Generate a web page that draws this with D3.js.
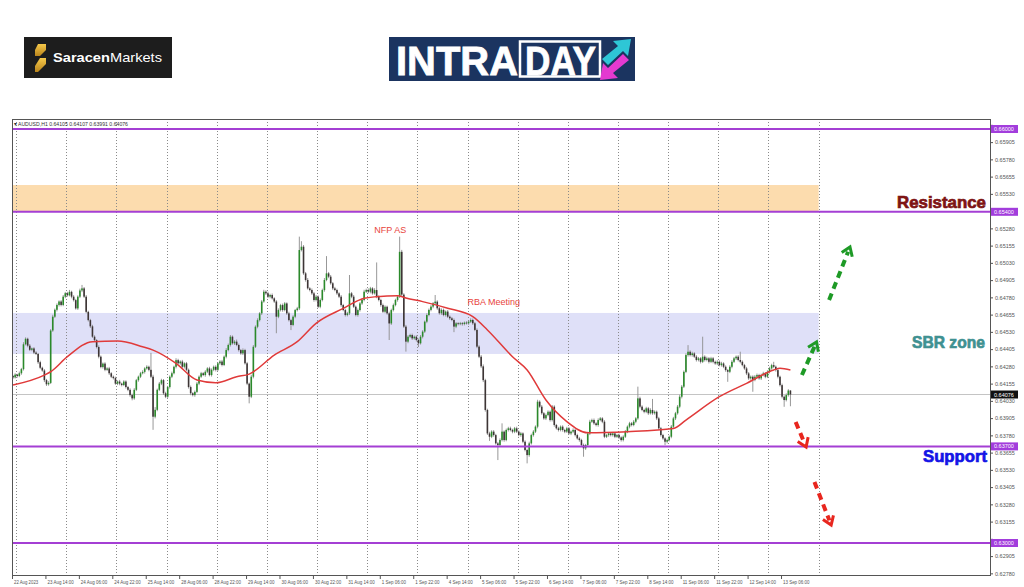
<!DOCTYPE html>
<html>
<head>
<meta charset="utf-8">
<script src="https://cdn.jsdelivr.net/npm/d3@7/dist/d3.min.js"></script>
<style>
  body { margin: 0; background: #fff; }
  svg { display: block; }
  text { font-family: "Liberation Sans", Arial, sans-serif; }
</style>
</head>
<body>
<script>
// AUDUSD H1, closes in points (1e-5). open of a bar = close of the bar before
var firstOpen = 64210;
var closes = [
  64200,64220,64210,64230,64260,64440,64480,64430,64400,64410,64380,64370,64310,64270,64250,64180,64150,64160,64540,64640,64690,64725,64750,64725,
  64785,64810,64795,64820,64785,64760,64700,64785,64830,64845,64785,64675,64615,64570,64495,64470,64420,64350,64275,64300,64255,64265,64230,64205,
  64195,64155,64170,64155,64145,64170,64130,64110,64072,64048,64110,64180,64205,64230,64240,64265,64277,64255,64205,63915,63965,64110,64155,64180,
  64085,64060,64130,64205,64230,64277,64325,64302,64315,64277,64302,64255,64130,64085,64072,64095,64155,64205,64230,64217,64241,64265,64217,64255,
  64277,64255,64302,64315,64290,64350,64398,64435,64495,64447,64459,64435,64398,64374,64398,64302,64155,64060,64205,64422,64567,64615,64664,64750,
  64821,64809,64785,64797,64773,64750,64640,64688,64724,64688,64736,64664,64615,64580,64640,64688,64700,65123,65147,64954,64906,64845,64833,64809,
  64761,64785,64712,64761,64833,64906,64954,64930,64882,64845,64833,64809,64785,64724,64688,64652,64664,64809,64785,64712,64652,64688,64736,64761,
  64821,64833,64821,64845,64809,64833,64785,64761,64724,64676,64712,64664,64591,64688,64724,64761,64785,65110,64800,64568,64459,64495,64507,64483,
  64495,64471,64447,64495,64532,64604,64652,64689,64713,64737,64749,64701,64665,64689,64652,64677,64640,64628,64616,64568,64592,64587,64592,64587,
  64597,64592,64604,64616,64592,64544,64423,64350,64280,64180,63964,63794,63770,63807,63782,63722,63710,63746,63807,63746,63819,63831,63819,63807,
  63831,63807,63782,63794,63734,63674,63637,63722,63782,63807,63843,64024,63988,63940,63903,63927,63951,63891,63988,63855,63831,63819,63843,63819,
  63807,63831,63794,63807,63819,63782,63758,63746,63710,63686,63710,63794,63879,63891,63867,63855,63891,63903,63879,63770,63782,63794,63782,63794,
  63770,63782,63765,63746,63770,63807,63843,63867,63855,63879,63903,64048,63988,63964,63951,63976,63940,63964,63940,63951,63903,63831,63782,63758,
  63734,63746,63770,63843,63903,63940,63988,64060,64133,64240,64362,64386,64362,64374,64350,64326,64338,64313,64350,64326,64338,64313,64338,64313,
  64301,64313,64289,64301,64277,64253,64241,64277,64313,64338,64350,64326,64313,64289,64265,64229,64193,64205,64181,64205,64217,64193,64217,64229,
  64205,64241,64265,64289,64277,64253,64205,64144,64060,64036,64072,64105,64076
];
// upper / lower shadows in points
var upWick = [
  8,10,6,12,9,15,10,8,12,6,9,10,7,11,8,10,9,12,10,14,9,11,8,10,
  12,9,10,14,8,11,9,10,13,25,10,12,8,9,11,10,7,12,9,8,10,9,11,8,
  9,10,8,12,7,10,9,8,11,10,12,9,8,10,12,9,11,8,123,14,20,9,12,10,
  8,11,9,10,12,8,14,10,9,12,8,10,9,11,8,10,12,9,10,8,11,9,12,10,
  9,11,8,10,12,9,14,10,12,9,11,15,10,8,12,9,10,8,14,12,10,13,9,11,
  14,10,12,9,11,8,10,12,9,11,10,8,12,9,10,8,11,97,40,12,10,14,9,11,
  10,12,9,11,10,14,125,10,12,9,11,10,8,12,9,10,11,133,10,12,9,11,10,12,
  14,10,12,11,9,13,200,10,9,11,10,8,12,10,11,9,10,110,14,10,12,11,9,10,
  9,10,11,12,10,8,12,10,11,9,48,10,9,11,10,8,12,9,10,11,9,8,10,9,
  8,10,9,12,10,9,11,10,12,14,10,9,12,10,11,9,10,12,60,9,10,11,12,9,
  10,12,9,11,8,10,9,12,10,11,9,14,10,12,9,11,10,9,12,10,8,11,9,10,
  9,11,10,8,12,9,10,11,9,10,8,12,14,10,11,9,12,10,9,11,8,10,9,11,
  10,9,11,8,10,12,9,11,10,12,9,85,12,10,9,11,10,12,80,10,9,11,10,9,
  8,10,9,12,11,10,12,14,12,10,12,48,10,12,9,11,10,9,145,10,12,9,11,10,
  9,11,10,12,9,10,8,11,12,10,9,11,60,10,9,11,10,9,10,12,11,9,10,12,
  10,11,12,10,24,9,10,8,11,10,12,10,2
];
var downWick = [
  10,8,12,9,11,10,8,12,9,10,11,8,12,10,9,14,12,10,8,10,9,12,11,10,
  9,11,10,8,12,10,9,11,10,12,9,11,10,12,9,11,10,12,9,11,10,8,12,10,
  10,9,11,12,10,8,11,10,12,14,10,9,11,10,8,12,9,11,10,95,12,10,9,11,
  12,10,9,11,10,8,12,9,11,10,12,9,11,14,10,12,9,11,10,8,12,10,9,11,
  10,12,9,11,10,8,12,9,11,10,12,9,11,10,12,9,11,48,10,12,9,11,10,12,
  9,11,10,12,9,10,120,11,10,12,9,11,10,37,9,11,10,12,10,11,12,9,10,11,
  12,10,9,11,10,12,9,11,10,12,9,11,10,12,9,11,10,12,11,9,10,12,11,10,
  10,9,11,12,10,9,11,10,12,9,11,10,120,11,10,9,12,10,12,10,72,11,10,12,
  10,11,27,9,12,10,11,9,10,12,9,11,10,12,9,11,10,12,9,40,11,10,9,12,
  10,9,11,10,12,9,11,10,12,14,12,11,30,10,12,9,109,11,10,12,9,11,10,12,
  11,10,9,12,11,10,60,12,9,11,10,12,9,11,10,12,9,11,10,12,9,11,10,12,
  11,10,9,12,11,10,9,12,10,61,11,10,12,9,11,10,12,9,11,10,9,12,10,11,
  10,9,12,11,10,9,11,12,10,9,11,10,12,9,11,10,12,9,11,10,12,9,11,10,
  25,12,10,11,9,12,10,11,12,10,9,11,10,12,9,11,10,12,9,11,10,12,9,11,
  10,12,9,11,10,12,73,10,11,9,12,10,11,9,10,12,11,10,85,9,11,10,12,9,
  11,10,12,9,10,11,12,10,12,49,10,11,85
];

// moving average (red), read at a few bars
var maBars = [0,15,18,26,38,50,62,67,78,88,97,107,113,125,136,145,158,168,174,184,188,196,208,220,227,239,246,255,265,275,294,316,322,338,351,364,367,372];
var maValues = [0.64145,0.64217,0.64241,0.64350,0.64459,0.64463,0.64422,0.64398,0.64302,0.64181,0.64161,0.64205,0.64224,0.64362,0.64459,0.64592,0.64700,0.64773,0.64785,0.64792,0.64775,0.64749,0.64701,0.64640,0.64544,0.64350,0.64254,0.64036,0.63880,0.63799,0.63807,0.63830,0.63891,0.64060,0.64157,0.64254,0.64266,0.64254];

// time axis: one label every 16 bars
var timeLabels = ["22 Aug 2023","23 Aug 14:00","24 Aug 06:00","24 Aug 22:00","25 Aug 14:00","28 Aug 06:00","28 Aug 22:00","29 Aug 14:00","30 Aug 06:00","30 Aug 22:00","31 Aug 14:00","1 Sep 06:00","1 Sep 22:00","4 Sep 14:00","5 Sep 06:00","5 Sep 22:00","6 Sep 14:00","7 Sep 06:00","7 Sep 22:00","8 Sep 14:00","11 Sep 06:00","11 Sep 22:00","12 Sep 14:00","13 Sep 06:00"];
var dayStarts = [2,26,50,74,98,122,146,170,194,218,242,266,290,314,338,362,386];

var yTicks = [0.66030,0.65905,0.65780,0.65655,0.65530,0.65405,0.65280,0.65155,0.65030,0.64905,0.64780,0.64655,0.64530,0.64405,0.64280,0.64155,0.64030,0.63905,0.63780,0.63655,0.63530,0.63405,0.63280,0.63155,0.63030,0.62905,0.62780];
var levels = [0.66000, 0.65400, 0.63700, 0.63000];
var lastPrice = 0.64076;
var resistanceZone = [0.65400, 0.65594];
var sbrZone = [0.64370, 0.64667];
var zoneEnd = 386;

// projection arrows: [bar, price] -> [bar, price]
var arrows = [
  {from: [378, 0.64217], to: [385, 0.64457], color: "#1e9a26"},
  {from: [391, 0.64761], to: [401, 0.65145], color: "#1e9a26"},
  {from: [375, 0.63877], to: [380, 0.63696], color: "#e8261e"},
  {from: [384, 0.63442], to: [392, 0.63130], color: "#e8261e"}
];

var W = 1024, H = 587;
var svg = d3.select("body").append("svg").attr("width", W).attr("height", H);

// ---- header logos ----
var logo = svg.append("g");
logo.append("rect").attr("x", 24).attr("y", 37).attr("width", 148).attr("height", 41).attr("fill", "#1d1d1d");
var gold = svg.append("defs").append("linearGradient").attr("id", "gold")
  .attr("x1", 0).attr("y1", 0).attr("x2", 0).attr("y2", 1);
gold.append("stop").attr("offset", 0).attr("stop-color", "#f6c94a");
gold.append("stop").attr("offset", 1).attr("stop-color", "#b9841c");
logo.append("path").attr("d", "M38,44 L46,44 L46,50 L40,56 L35,56 L35,50 Z").attr("fill", "url(#gold)");
logo.append("path").attr("d", "M40,58 L46,58 L46,64 L38,72 L35,72 L35,66 Z").attr("fill", "url(#gold)");
var st = logo.append("text").attr("x", 53).attr("y", 62).attr("font-family", "Open Sans, sans-serif")
  .attr("font-size", 13.5).attr("fill", "#fff").attr("textLength", 109).attr("lengthAdjust", "spacingAndGlyphs");
st.append("tspan").attr("font-weight", 700).text("Saracen");
st.append("tspan").attr("font-weight", 400).text("Markets");

var intra = svg.append("g");
intra.append("rect").attr("x", 389).attr("y", 37).attr("width", 246).attr("height", 44).attr("fill", "#1b3460");
intra.append("text").attr("x", 396).attr("y", 75).attr("font-family", "Roboto, sans-serif")
  .attr("font-weight", 700).attr("font-size", 40).attr("fill", "#fff")
  .attr("stroke", "#fff").attr("stroke-width", 0.8)
  .attr("textLength", 122).attr("lengthAdjust", "spacingAndGlyphs").text("INTRA");
intra.append("rect").attr("x", 520).attr("y", 41.5).attr("width", 80).attr("height", 35)
  .attr("fill", "none").attr("stroke", "#fff").attr("stroke-width", 2.5);
intra.append("text").attr("x", 525).attr("y", 75).attr("font-family", "Roboto, sans-serif")
  .attr("font-weight", 700).attr("font-size", 40).attr("fill", "#fff")
  .attr("stroke", "#fff").attr("stroke-width", 0.8)
  .attr("textLength", 71).attr("lengthAdjust", "spacingAndGlyphs").text("DAY");
intra.append("path").attr("d", "M602,59 L618,46 L613,41 L631,39 L628,56 L623,51 L608,65 Z").attr("fill", "#2ec6d6");
intra.append("path").attr("d", "M629,60 L613,73 L618,78 L600,80 L603,63 L608,68 L623,54 Z").attr("fill", "#e43ad0");

// ---- chart ----
var plot = {left: 12, right: 990, top: 119, bottom: 575};
var x = d3.scaleLinear().domain([0, 468]).range([plot.left, plot.right]);
var y = d3.scaleLinear().domain([0.627681, 0.660725]).range([plot.bottom, plot.top]);

var bars = closes.map(function (c, i) {
  var o = i === 0 ? firstOpen : closes[i - 1];
  return {
    i: i,
    open: o / 1e5,
    close: c / 1e5,
    high: (Math.max(o, c) + upWick[i]) / 1e5,
    low: (Math.min(o, c) - downWick[i]) / 1e5
  };
});

svg.append("clipPath").attr("id", "clip").append("rect")
  .attr("x", plot.left).attr("y", plot.top)
  .attr("width", plot.right - plot.left).attr("height", plot.bottom - plot.top);
var g = svg.append("g").attr("clip-path", "url(#clip)");

// zones
g.append("rect").attr("x", x(0)).attr("width", x(zoneEnd) - x(0))
  .attr("y", y(resistanceZone[1])).attr("height", y(resistanceZone[0]) - y(resistanceZone[1]))
  .attr("fill", "#fcdcae");
g.append("rect").attr("x", x(0)).attr("width", x(zoneEnd) - x(0))
  .attr("y", y(sbrZone[1])).attr("height", y(sbrZone[0]) - y(sbrZone[1]))
  .attr("fill", "#dfe0f8");

// day separators
g.selectAll("line.day").data(dayStarts).enter().append("line")
  .attr("class", "day")
  .attr("x1", function (d) { return Math.round(x(d)) + 0.5; })
  .attr("x2", function (d) { return Math.round(x(d)) + 0.5; })
  .attr("y1", plot.top).attr("y2", plot.bottom)
  .attr("stroke", "#8a8a8a").attr("stroke-width", 1).attr("stroke-dasharray", "1,2");

// bid line
g.append("line").attr("x1", plot.left).attr("x2", plot.right)
  .attr("y1", y(lastPrice)).attr("y2", y(lastPrice))
  .attr("stroke", "#c4c4c4").attr("stroke-width", 1);

// candles
var cg = g.append("g");
cg.selectAll("line.wick").data(bars).enter().append("line")
  .attr("class", "wick")
  .attr("x1", function (d) { return x(d.i + 0.5); })
  .attr("x2", function (d) { return x(d.i + 0.5); })
  .attr("y1", function (d) { return y(d.high); })
  .attr("y2", function (d) { return y(d.low); })
  .attr("stroke", "#8c8c8c").attr("stroke-width", 0.9);
cg.selectAll("rect.body").data(bars).enter().append("rect")
  .attr("class", "body")
  .attr("x", function (d) { return x(d.i + 0.5) - 0.8; })
  .attr("width", 1.6)
  .attr("y", function (d) { return y(Math.max(d.open, d.close)); })
  .attr("height", function (d) { return Math.max(0.8, Math.abs(y(d.open) - y(d.close))); })
  .attr("fill", function (d) { return d.close >= d.open ? "#2b8a2b" : "#3d3535"; });

// moving average
var ma = maBars.map(function (b, k) { return [b, maValues[k]]; });
g.append("path").datum(ma)
  .attr("fill", "none").attr("stroke", "#e03a3a").attr("stroke-width", 1.5)
  .attr("d", d3.line()
    .x(function (d) { return x(d[0] + 0.5); })
    .y(function (d) { return y(d[1]); })
    .curve(d3.curveMonotoneX));

// purple levels
g.selectAll("line.level").data(levels).enter().append("line")
  .attr("class", "level")
  .attr("x1", plot.left).attr("x2", plot.right)
  .attr("y1", function (d) { return y(d); }).attr("y2", function (d) { return y(d); })
  .attr("stroke", "#a43fd4").attr("stroke-width", 2);

// event notes
g.append("text").attr("x", x(181)).attr("y", y(0.65250)).attr("text-anchor", "middle")
  .attr("font-size", 9).attr("fill", "#e8443c").text("NFP AS");
g.append("text").attr("x", x(218)).attr("y", y(0.64725)).attr("text-anchor", "start")
  .attr("font-size", 9).attr("fill", "#e8443c").text("RBA Meeting");

// arrows
arrows.forEach(function (a) {
  var x1 = x(a.from[0]), y1 = y(a.from[1]), x2 = x(a.to[0]), y2 = y(a.to[1]);
  var ang = Math.atan2(y2 - y1, x2 - x1);
  var back = 5;
  g.append("line")
    .attr("x1", x1).attr("y1", y1)
    .attr("x2", x2 - back * Math.cos(ang)).attr("y2", y2 - back * Math.sin(ang))
    .attr("stroke", a.color).attr("stroke-width", 4).attr("stroke-dasharray", "7,5");
  var len = 10, spread = 0.6;
  var p1 = [x2 - len * Math.cos(ang - spread), y2 - len * Math.sin(ang - spread)];
  var p2 = [x2 - len * Math.cos(ang + spread), y2 - len * Math.sin(ang + spread)];
  g.append("path")
    .attr("d", "M" + p1 + "L" + x2 + "," + y2 + "L" + p2)
    .attr("fill", "none").attr("stroke", a.color).attr("stroke-width", 3)
    .attr("stroke-linejoin", "miter");
});

// frame
svg.append("rect").attr("x", plot.left + 0.5).attr("y", plot.top + 0.5)
  .attr("width", plot.right - plot.left).attr("height", plot.bottom - plot.top)
  .attr("fill", "none").attr("stroke", "#555").attr("stroke-width", 1);

// big zone labels
var big = svg.append("g").attr("font-family", "Roboto, sans-serif").attr("font-weight", 900)
  .attr("text-anchor", "end").attr("stroke-width", 0.7);
big.append("text").attr("x", 986).attr("y", y(0.65400) - 4).attr("font-size", 17)
  .attr("fill", "#7e1414").attr("stroke", "#7e1414")
  .attr("textLength", 89).attr("lengthAdjust", "spacingAndGlyphs").text("Resistance");
big.append("text").attr("x", 985).attr("y", y(0.64400) - 2).attr("font-size", 17)
  .attr("fill", "#3f9191").attr("stroke", "#3f9191")
  .attr("textLength", 73).attr("lengthAdjust", "spacingAndGlyphs").text("SBR zone");
big.append("text").attr("x", 987).attr("y", y(0.63700) + 16).attr("font-size", 17)
  .attr("fill", "#1414e6").attr("stroke", "#1414e6")
  .attr("textLength", 64).attr("lengthAdjust", "spacingAndGlyphs").text("Support");

// price axis, labels under the price tags are left out
var tagged = levels.concat([lastPrice]);
var shownTicks = yTicks.filter(function (v) {
  return tagged.every(function (t) { return Math.abs(y(v) - y(t)) > 6; });
});
var yAxis = d3.axisRight(y).tickValues(yTicks).tickSize(3).tickFormat(function (v) {
  return shownTicks.indexOf(v) >= 0 ? d3.format(".5f")(v) : "";
});
var ya = svg.append("g").attr("transform", "translate(" + plot.right + ",0)").call(yAxis);
ya.select(".domain").remove();
ya.selectAll("text").attr("font-size", 5.5).attr("fill", "#555").attr("x", 5);
ya.selectAll("line").attr("stroke", "#555");

function priceTag(v, bg) {
  var t = svg.append("g").attr("transform", "translate(" + (plot.right + 1) + "," + y(v) + ")");
  t.append("rect").attr("x", 0).attr("y", -4).attr("width", 27).attr("height", 8).attr("fill", bg);
  t.append("text").attr("x", 3).attr("y", 2).attr("font-size", 5.5).attr("fill", "#fff")
    .text(d3.format(".5f")(v));
}
levels.forEach(function (v) { priceTag(v, "#a23ddc"); });
priceTag(lastPrice, "#111");

// time axis
var tickBars = timeLabels.map(function (t, k) { return k * 16; });
var xa = svg.append("g").attr("transform", "translate(0," + plot.bottom + ")");
xa.selectAll("line").data(tickBars).enter().append("line")
  .attr("x1", function (d) { return x(d) + 0.5; }).attr("x2", function (d) { return x(d) + 0.5; })
  .attr("y1", 0).attr("y2", 4).attr("stroke", "#555");
xa.selectAll("text").data(tickBars).enter().append("text")
  .attr("x", function (d) { return x(d) + 2; }).attr("y", 9)
  .attr("font-size", 5).attr("fill", "#555")
  .attr("textLength", function (d, k) { return timeLabels[k].length * 2.2; })
  .attr("lengthAdjust", "spacingAndGlyphs")
  .text(function (d, k) { return timeLabels[k]; });

// symbol line
var last = bars[bars.length - 1];
svg.append("text").attr("x", 14).attr("y", 126).attr("font-size", 5.5).attr("fill", "#333")
  .attr("textLength", 114).attr("lengthAdjust", "spacingAndGlyphs")
  .text("\u25BE AUDUSD,H1  " + [last.open, last.high, last.low, last.close].map(d3.format(".5f")).join(" "));
</script>
</body>
</html>
